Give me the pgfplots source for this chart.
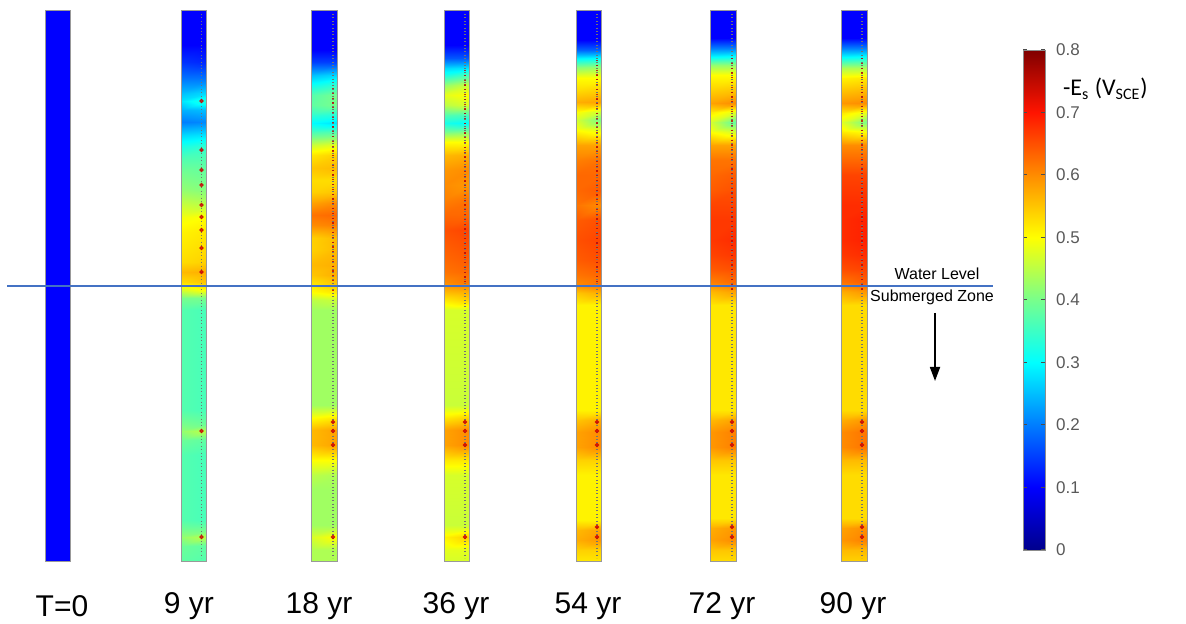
\documentclass[border=0pt]{standalone}
\usepackage{pgfplots}
\pgfplotsset{compat=1.18}
\usetikzlibrary{arrows.meta}
\usepackage{fontspec}
\setmainfont{Liberation Sans}
\newfontfamily\carlito{Carlito}
\definecolor{wline}{RGB}{68,114,196}
\begin{document}
\begin{tikzpicture}
\begin{axis}[name=main,
  scale only axis, width=593pt, height=312pt,
  xmin=0, xmax=1186, ymin=0, ymax=624, y dir=reverse,
  axis lines=none, clip=false,
  colormap={comsol}{rgb255(0)=(0,0,140) rgb255(1)=(0,0,255) rgb255(2)=(0,125,255) rgb255(3)=(0,255,255) rgb255(4)=(120,255,140) rgb255(5)=(255,255,0) rgb255(6)=(255,140,0) rgb255(7)=(255,20,0) rgb255(8)=(128,0,0)},
  point meta min=0, point meta max=0.8,
  colorbar,
  colorbar style={
    at={(parent axis.south west)}, anchor=south west,
    xshift=503pt, yshift=37pt,
    scale only axis, width=11pt, height=250pt, y dir=normal,
    ytick={0,0.1,0.2,0.3,0.4,0.5,0.6,0.7,0.8},
    ytick pos=both, yticklabel pos=right,
    tick align=inside, major tick length=2pt,
    tick style={black!70, line width=0.5pt},
    axis line style={black!45, line width=0.4pt},
    yticklabel style={font=\fontsize{8.5}{10}\selectfont, text=black!65, xshift=2pt,
      /pgf/number format/fixed, /pgf/number format/precision=1,
      /pgf/number format/assume math mode=true},
  },
]
% T=0
\addplot[surf, shader=interp, mesh/cols=2, point meta=explicit] coordinates {
(45,10)[0.1] (70,10)[0.1]
(45,561)[0.1] (70,561)[0.1]
};
% 9 yr
\addplot[surf, shader=interp, mesh/cols=2, point meta=explicit] coordinates {
(181,10)[0.1] (206,10)[0.1]
(181,45)[0.1] (206,45)[0.1]
(181,62)[0.14] (206,62)[0.13]
(181,80)[0.2] (206,80)[0.2]
(181,93)[0.25] (206,93)[0.27]
(181,101)[0.28] (206,101)[0.33]
(181,110)[0.24] (206,110)[0.25]
(181,122)[0.2] (206,122)[0.21]
(181,135)[0.27] (206,135)[0.28]
(181,146)[0.32] (206,146)[0.34]
(181,160)[0.37] (206,160)[0.37]
(181,175)[0.4] (206,175)[0.39]
(181,190)[0.42] (206,190)[0.41]
(181,205)[0.46] (206,205)[0.45]
(181,217)[0.49] (206,217)[0.5]
(181,232)[0.51] (206,232)[0.52]
(181,248)[0.52] (206,248)[0.53]
(181,262)[0.53] (206,262)[0.54]
(181,272)[0.56] (206,272)[0.57]
(181,282)[0.53] (206,282)[0.55]
(181,290)[0.47] (206,290)[0.5]
(181,298)[0.4] (206,298)[0.4]
(181,310)[0.37] (206,310)[0.36]
(181,410)[0.37] (206,410)[0.36]
(181,424)[0.4] (206,424)[0.39]
(181,431)[0.42] (206,431)[0.45]
(181,440)[0.39] (206,440)[0.38]
(181,455)[0.37] (206,455)[0.36]
(181,520)[0.37] (206,520)[0.36]
(181,531)[0.4] (206,531)[0.4]
(181,537)[0.42] (206,537)[0.45]
(181,546)[0.39] (206,546)[0.38]
(181,561)[0.38] (206,561)[0.37]
};
% 18 yr
\addplot[surf, shader=interp, mesh/cols=2, point meta=explicit] coordinates {
(311,10)[0.1] (337,10)[0.1]
(311,50)[0.1] (337,50)[0.1]
(311,62)[0.15] (337,62)[0.15]
(311,75)[0.25] (337,75)[0.27]
(311,85)[0.31] (337,85)[0.34]
(311,95)[0.37] (337,95)[0.4]
(311,105)[0.38] (337,105)[0.4]
(311,115)[0.34] (337,115)[0.33]
(311,123)[0.3] (337,123)[0.28]
(311,132)[0.36] (337,132)[0.37]
(311,145)[0.46] (337,145)[0.48]
(311,155)[0.52] (337,155)[0.54]
(311,168)[0.55] (337,168)[0.56]
(311,180)[0.53] (337,180)[0.53]
(311,192)[0.54] (337,192)[0.55]
(311,203)[0.58] (337,203)[0.6]
(311,215)[0.62] (337,215)[0.63]
(311,225)[0.6] (337,225)[0.61]
(311,238)[0.54] (337,238)[0.56]
(311,250)[0.54] (337,250)[0.56]
(311,265)[0.56] (337,265)[0.57]
(311,275)[0.55] (337,275)[0.57]
(311,284)[0.52] (337,284)[0.55]
(311,292)[0.5] (337,292)[0.52]
(311,300)[0.45] (337,300)[0.46]
(311,310)[0.43] (337,310)[0.43]
(311,405)[0.43] (337,405)[0.43]
(311,418)[0.5] (337,418)[0.52]
(311,430)[0.56] (337,430)[0.58]
(311,445)[0.56] (337,445)[0.58]
(311,460)[0.5] (337,460)[0.5]
(311,475)[0.45] (337,475)[0.44]
(311,490)[0.43] (337,490)[0.43]
(311,525)[0.43] (337,525)[0.43]
(311,537)[0.47] (337,537)[0.5]
(311,550)[0.44] (337,550)[0.44]
(311,561)[0.44] (337,561)[0.44]
};
% 36 yr
\addplot[surf, shader=interp, mesh/cols=2, point meta=explicit] coordinates {
(444,10)[0.1] (469,10)[0.1]
(444,45)[0.1] (469,45)[0.1]
(444,58)[0.17] (469,58)[0.17]
(444,68)[0.27] (469,68)[0.28]
(444,75)[0.32] (469,75)[0.36]
(444,85)[0.42] (469,85)[0.46]
(444,95)[0.48] (469,95)[0.5]
(444,105)[0.45] (469,105)[0.47]
(444,115)[0.37] (469,115)[0.36]
(444,123)[0.32] (469,123)[0.3]
(444,133)[0.41] (469,133)[0.42]
(444,142)[0.5] (469,142)[0.5]
(444,155)[0.56] (469,155)[0.57]
(444,170)[0.59] (469,170)[0.6]
(444,185)[0.6] (469,185)[0.59]
(444,200)[0.61] (469,200)[0.62]
(444,215)[0.63] (469,215)[0.63]
(444,230)[0.65] (469,230)[0.66]
(444,245)[0.64] (469,245)[0.65]
(444,260)[0.63] (469,260)[0.64]
(444,272)[0.62] (469,272)[0.63]
(444,282)[0.6] (469,282)[0.62]
(444,290)[0.57] (469,290)[0.58]
(444,300)[0.52] (469,300)[0.54]
(444,310)[0.47] (469,310)[0.47]
(444,405)[0.46] (469,405)[0.46]
(444,418)[0.52] (469,418)[0.54]
(444,430)[0.58] (469,430)[0.6]
(444,445)[0.58] (469,445)[0.6]
(444,460)[0.52] (469,460)[0.52]
(444,475)[0.47] (469,475)[0.47]
(444,525)[0.46] (469,525)[0.46]
(444,537)[0.51] (469,537)[0.54]
(444,550)[0.48] (469,550)[0.48]
(444,561)[0.47] (469,561)[0.47]
};
% 54 yr
\addplot[surf, shader=interp, mesh/cols=2, point meta=explicit] coordinates {
(576,10)[0.1] (601,10)[0.1]
(576,40)[0.1] (601,40)[0.1]
(576,50)[0.18] (601,50)[0.18]
(576,58)[0.29] (601,58)[0.3]
(576,67)[0.41] (601,67)[0.42]
(576,78)[0.5] (601,78)[0.5]
(576,90)[0.53] (601,90)[0.54]
(576,102)[0.57] (601,102)[0.58]
(576,112)[0.5] (601,112)[0.46]
(576,120)[0.47] (601,120)[0.4]
(576,130)[0.5] (601,130)[0.48]
(576,145)[0.58] (601,145)[0.58]
(576,160)[0.61] (601,160)[0.62]
(576,175)[0.63] (601,175)[0.63]
(576,190)[0.63] (601,190)[0.64]
(576,205)[0.62] (601,205)[0.6]
(576,220)[0.64] (601,220)[0.65]
(576,240)[0.65] (601,240)[0.66]
(576,260)[0.64] (601,260)[0.65]
(576,275)[0.62] (601,275)[0.63]
(576,285)[0.6] (601,285)[0.62]
(576,293)[0.55] (601,293)[0.57]
(576,305)[0.51] (601,305)[0.51]
(576,410)[0.51] (601,410)[0.51]
(576,420)[0.55] (601,420)[0.57]
(576,432)[0.58] (601,432)[0.6]
(576,447)[0.58] (601,447)[0.6]
(576,460)[0.54] (601,460)[0.54]
(576,475)[0.51] (601,475)[0.51]
(576,520)[0.51] (601,520)[0.51]
(576,530)[0.56] (601,530)[0.58]
(576,540)[0.57] (601,540)[0.59]
(576,550)[0.54] (601,550)[0.54]
(576,561)[0.52] (601,561)[0.52]
};
% 72 yr
\addplot[surf, shader=interp, mesh/cols=2, point meta=explicit] coordinates {
(710,10)[0.1] (736,10)[0.1]
(710,38)[0.1] (736,38)[0.1]
(710,48)[0.2] (736,48)[0.2]
(710,57)[0.3] (736,57)[0.31]
(710,65)[0.42] (736,65)[0.42]
(710,75)[0.5] (736,75)[0.5]
(710,90)[0.54] (736,90)[0.55]
(710,103)[0.58] (736,103)[0.6]
(710,112)[0.52] (736,112)[0.48]
(710,122)[0.47] (736,122)[0.38]
(710,132)[0.5] (736,132)[0.47]
(710,145)[0.58] (736,145)[0.58]
(710,160)[0.62] (736,160)[0.62]
(710,175)[0.63] (736,175)[0.64]
(710,190)[0.64] (736,190)[0.65]
(710,205)[0.66] (736,205)[0.66]
(710,220)[0.67] (736,220)[0.67]
(710,240)[0.67] (736,240)[0.68]
(710,255)[0.66] (736,255)[0.67]
(710,270)[0.64] (736,270)[0.65]
(710,282)[0.61] (736,282)[0.63]
(710,292)[0.56] (736,292)[0.58]
(710,305)[0.52] (736,305)[0.52]
(710,410)[0.52] (736,410)[0.52]
(710,420)[0.56] (736,420)[0.58]
(710,432)[0.59] (736,432)[0.61]
(710,447)[0.59] (736,447)[0.61]
(710,460)[0.55] (736,460)[0.55]
(710,475)[0.52] (736,475)[0.52]
(710,518)[0.52] (736,518)[0.52]
(710,528)[0.57] (736,528)[0.59]
(710,540)[0.58] (736,540)[0.6]
(710,550)[0.55] (736,550)[0.55]
(710,561)[0.53] (736,561)[0.53]
};
% 90 yr
\addplot[surf, shader=interp, mesh/cols=2, point meta=explicit] coordinates {
(841,10)[0.1] (867,10)[0.1]
(841,38)[0.1] (867,38)[0.1]
(841,48)[0.2] (867,48)[0.2]
(841,58)[0.31] (867,58)[0.32]
(841,68)[0.44] (867,68)[0.44]
(841,78)[0.51] (867,78)[0.52]
(841,90)[0.55] (867,90)[0.56]
(841,103)[0.59] (867,103)[0.6]
(841,113)[0.52] (867,113)[0.48]
(841,122)[0.48] (867,122)[0.4]
(841,132)[0.52] (867,132)[0.5]
(841,145)[0.6] (867,145)[0.6]
(841,160)[0.63] (867,160)[0.63]
(841,175)[0.66] (867,175)[0.66]
(841,190)[0.67] (867,190)[0.67]
(841,205)[0.68] (867,205)[0.68]
(841,220)[0.68] (867,220)[0.69]
(841,240)[0.68] (867,240)[0.69]
(841,255)[0.67] (867,255)[0.68]
(841,270)[0.65] (867,270)[0.66]
(841,282)[0.62] (867,282)[0.64]
(841,292)[0.57] (867,292)[0.59]
(841,305)[0.53] (867,305)[0.53]
(841,410)[0.53] (867,410)[0.53]
(841,420)[0.57] (867,420)[0.59]
(841,432)[0.6] (867,432)[0.62]
(841,447)[0.6] (867,447)[0.62]
(841,460)[0.56] (867,460)[0.56]
(841,475)[0.53] (867,475)[0.53]
(841,518)[0.53] (867,518)[0.53]
(841,528)[0.58] (867,528)[0.6]
(841,540)[0.59] (867,540)[0.61]
(841,550)[0.56] (867,550)[0.56]
(841,561)[0.54] (867,561)[0.54]
};
% column outlines and internal dotted lines
\foreach \l/\r in {45/70,181/206,311/337,444/469,576/601,710/736,841/867}{
  \edef\tmp{\noexpand\draw[black!40, line width=0.4pt] (axis cs:\l,10) rectangle (axis cs:\r,561);}\tmp
}
\foreach \d in {201.5,333,465,597,732,862}{
  \edef\tmp{\noexpand\draw[black!55, line width=0.6pt, dash pattern=on 0.5pt off 1.2pt] (axis cs:\d,14) -- (axis cs:\d,558);}\tmp
}
\foreach \d/\a in {333/88,465/70,597/60,732/58,862/58}{
  \edef\tmp{\noexpand\draw[red!75!black, opacity=0.8, line width=0.7pt, dash pattern=on 0.6pt off 1.8pt] (axis cs:\d,\a) -- (axis cs:\d,290);}\tmp
}
% hot spots
\addplot[only marks, mark=*, mark size=0.9pt, color=red!80!black, opacity=0.75] coordinates {
(201.5,101) (201.5,150) (201.5,170) (201.5,185) (201.5,205) (201.5,217) (201.5,230) (201.5,248) (201.5,272) (201.5,431) (201.5,537)
(333,422) (333,431) (333,445) (333,537)
(465,422) (465,431) (465,445) (465,537)
(597,422) (597,431) (597,445) (597,527) (597,537)
(732,422) (732,431) (732,445) (732,527) (732,537)
(862,422) (862,431) (862,445) (862,527) (862,537)
};
% water level
\draw[wline, line width=0.8pt] (axis cs:7,286) -- (axis cs:993,286);
\node[font=\fontsize{8}{9}\selectfont] at (axis cs:937,274) {Water Level};
\node[font=\fontsize{8}{9}\selectfont] at (axis cs:932,297) {Submerged Zone};
\draw[-{Triangle[width=5pt,length=7pt]}, line width=0.9pt] (axis cs:935,313) -- (axis cs:935,381);
% colorbar label
\node[font=\carlito\fontsize{12}{14}\selectfont, anchor=west] at (axis cs:1056,89) {-E\textsubscript{s} (V\textsubscript{SCE})};
% bottom labels
\foreach \x/\t in {62/T=0,189/9 yr,319/18 yr,456/36 yr,588/54 yr,722/72 yr,853/90 yr}{
  \edef\tmp{\noexpand\node[font=\noexpand\fontsize{15}{17}\noexpand\selectfont] at (axis cs:\x,606) {\t};}\tmp
}
\end{axis}
\pgfresetboundingbox
\path (main.south west) rectangle (main.north east);
\end{tikzpicture}
\end{document}
